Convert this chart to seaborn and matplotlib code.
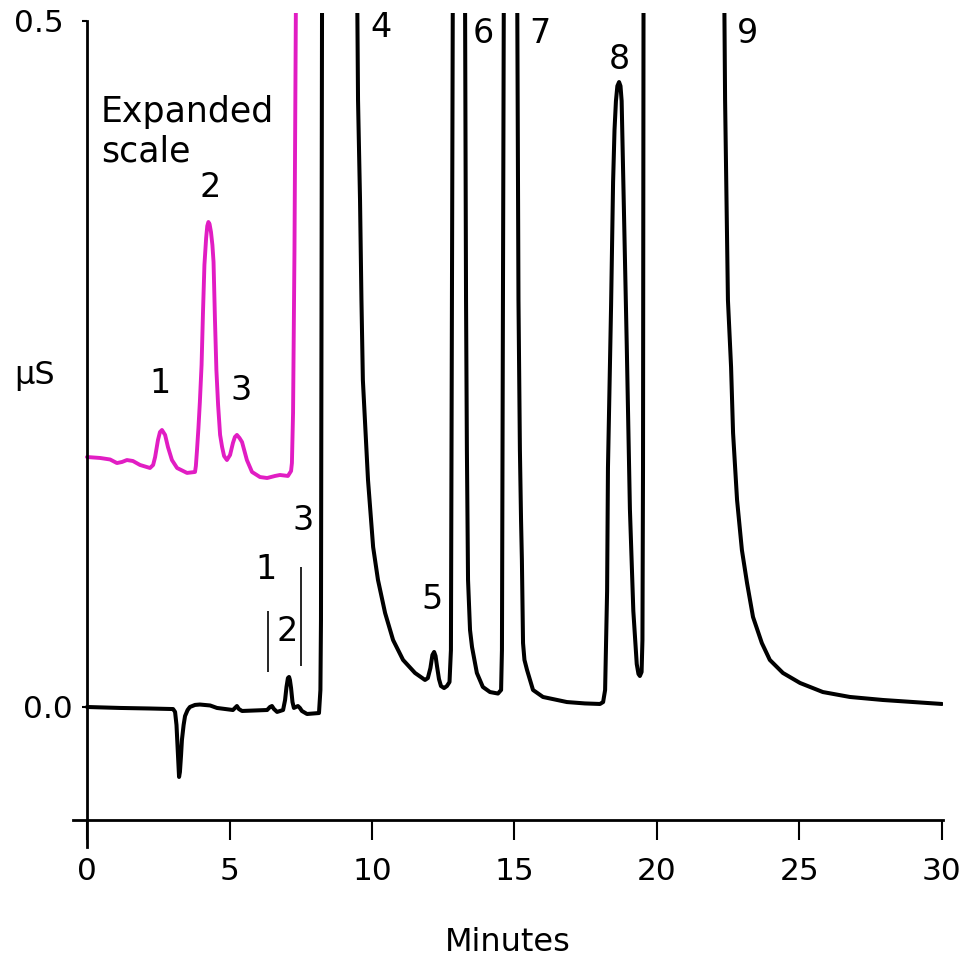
import matplotlib
matplotlib.use("Agg")
import matplotlib.pyplot as plt
import seaborn as sns

# Main conductivity trace: retention time (min) and signal (µS)
time_main = [
    0.00, 1.16, 2.21, 3.02, 3.09, 3.14, 3.19, 3.23, 3.26, 3.30, 3.33, 3.39,
    3.44, 3.53, 3.61, 3.79, 3.96, 4.32, 4.56, 5.12, 5.19, 5.26, 5.33, 5.44,
    6.32, 6.42, 6.49, 6.56, 6.67, 6.88, 6.95, 7.00, 7.05, 7.09, 7.12, 7.16,
    7.21, 7.26, 7.33, 7.40, 7.47, 7.54, 7.72, 8.14, 8.19, 8.21, 8.25, 8.80,
    9.47, 9.51, 9.58, 9.63, 9.68, 9.86, 10.04, 10.21, 10.46, 10.74, 11.09,
    11.51, 11.86, 11.96, 12.05, 12.12, 12.18, 12.23, 12.28, 12.35, 12.42,
    12.53, 12.63, 12.72, 12.77, 12.84, 13.05, 13.26, 13.30, 13.33, 13.37,
    13.44, 13.51, 13.68, 13.89, 14.14, 14.42, 14.53, 14.56, 14.63, 14.86,
    15.09, 15.14, 15.19, 15.23, 15.26, 15.30, 15.35, 15.44, 15.65, 16.00,
    16.84, 17.47, 18.00, 18.11, 18.18, 18.25, 18.28, 18.39, 18.46, 18.51,
    18.56, 18.61, 18.67, 18.72, 18.76, 18.82, 18.88, 18.94, 19.05, 19.17,
    19.29, 19.35, 19.40, 19.46, 19.49, 19.51, 19.53, 21.00, 22.35, 22.39,
    22.44, 22.49, 22.55, 22.60, 22.67, 22.81, 22.98, 23.16, 23.37, 23.68,
    23.96, 24.42, 25.02, 25.82, 26.77, 27.93, 30.00,
]
signal_main = [
    0.0000, -0.0007, -0.0011, -0.0015, -0.0036, -0.0131, -0.0350, -0.0510,
    -0.0474, -0.0350, -0.0241, -0.0131, -0.0066, -0.0022, 0.0000, 0.0015,
    0.0018, 0.0011, -0.0007, -0.0022, -0.0007, 0.0007, -0.0015, -0.0029,
    -0.0022, 0.0000, 0.0007, -0.0015, -0.0036, -0.0022, 0.0051, 0.0146,
    0.0211, 0.0219, 0.0197, 0.0138, 0.0036, -0.0007, 0.0000, 0.0007, -0.0007,
    -0.0029, -0.0051, -0.0044, 0.0124, 0.0634, 0.5500, 1.5000,
    0.5500, 0.4424, 0.3695, 0.2966, 0.2383, 0.1655, 0.1166, 0.0926, 0.0685,
    0.0488, 0.0343, 0.0248, 0.0197, 0.0211, 0.0284, 0.0379, 0.0401, 0.0372,
    0.0299, 0.0204, 0.0153, 0.0138, 0.0153, 0.0182, 0.0415, 0.5500, 1.2000,
    0.5500, 0.2966, 0.1873, 0.0926, 0.0561, 0.0437, 0.0248, 0.0146, 0.0109,
    0.0098, 0.0124, 0.0415, 0.5500, 1.0000, 0.5500, 0.2966, 0.1873, 0.1363,
    0.1071, 0.0466, 0.0343, 0.0270, 0.0124, 0.0073, 0.0036, 0.0026, 0.0022,
    0.0036, 0.0124, 0.0845, 0.1742, 0.2930, 0.3827, 0.4206, 0.4417, 0.4526,
    0.4555, 0.4526, 0.4417, 0.3827, 0.3229, 0.2631, 0.1443, 0.0700, 0.0313,
    0.0241, 0.0226, 0.0255, 0.0488, 0.1742, 0.5500, 3.0000, 0.5500, 0.4424,
    0.3695, 0.2966, 0.2700, 0.2478, 0.1997, 0.1509, 0.1144, 0.0904, 0.0656,
    0.0466, 0.0343, 0.0248, 0.0175, 0.0109, 0.0073, 0.0051, 0.0022,
]

# Early-eluting region replotted on an expanded (offset) scale
time_expanded = [
    0.00, 0.46, 0.81, 1.05, 1.23, 1.40, 1.61, 1.86, 2.21, 2.32, 2.39, 2.49,
    2.56, 2.63, 2.74, 2.84, 2.98, 3.16, 3.51, 3.79, 3.82, 3.86, 3.91, 3.96,
    4.02, 4.07, 4.12, 4.18, 4.22, 4.26, 4.30, 4.35, 4.40, 4.44, 4.49, 4.54,
    4.60, 4.67, 4.74, 4.81, 4.91, 5.02, 5.12, 5.19, 5.26, 5.35, 5.44, 5.61,
    5.79, 6.07, 6.32, 6.60, 6.77, 7.05, 7.16, 7.19, 7.23, 7.28, 7.34,
]
signal_expanded = [
    0.1822, 0.1815, 0.1804, 0.1778, 0.1786, 0.1800, 0.1793, 0.1764, 0.1742,
    0.1764, 0.1822, 0.1946, 0.2004, 0.2019, 0.1983, 0.1895, 0.1800, 0.1742,
    0.1706, 0.1713, 0.1757, 0.1873, 0.2034, 0.2223, 0.2493, 0.2879, 0.3222,
    0.3418, 0.3506, 0.3535, 0.3520, 0.3462, 0.3367, 0.3243, 0.2821, 0.2456,
    0.2201, 0.1983, 0.1895, 0.1829, 0.1800, 0.1837, 0.1924, 0.1968, 0.1983,
    0.1961, 0.1931, 0.1800, 0.1713, 0.1676, 0.1669, 0.1684, 0.1691, 0.1684,
    0.1720, 0.1778, 0.2143, 0.3331, 0.5500,
]

# Peak numbers on the main trace and on the expanded trace
main_peak_names = ["1", "2", "3", "4", "5", "6", "7", "8", "9"]
expanded_peak_names = ["1", "2", "3"]

# Label placement (data coordinates)
main_label_xy = [(6.28, 0.100), (7.02, 0.0547), (7.58, 0.136), (10.32, 0.495),
                 (12.10, 0.078), (13.90, 0.491), (15.90, 0.491), (18.67, 0.4716),
                 (23.19, 0.491)]
expanded_label_xy = [(2.56, 0.236), (4.32, 0.379), (5.40, 0.231)]
marker_lines = [(6.35, 0.0255, 0.070), (7.51, 0.030, 0.102)]

sns.set_theme(style="white")
plt.rcParams["font.family"] = ["DejaVu Sans"]
plt.rcParams["text.color"] = "black"

fig = plt.figure(figsize=(9.65, 9.59), dpi=100)
ax = fig.add_axes([0.0754, 0.1449, 0.9022, 0.8415])

sns.lineplot(x=time_main, y=signal_main, ax=ax, color="black", linewidth=2.9,
             sort=False, estimator=None)
sns.lineplot(x=time_expanded, y=signal_expanded, ax=ax, color="#E11DC3",
             linewidth=2.8, sort=False, estimator=None)

ax.set_xlim(-0.5, 30.05)
ax.set_ylim(-0.0824, 0.5058)

# Axis frame: only left and bottom, left spine sits at t = 0
for side in ("top", "right"):
    ax.spines[side].set_visible(False)
for side in ("left", "bottom"):
    ax.spines[side].set_color("black")
    ax.spines[side].set_linewidth(2.0)
ax.spines["left"].set_position(("data", 0))
ax.spines["left"].set_bounds(-0.102, 0.5)

ax.set_xticks([0, 5, 10, 15, 20, 25, 30])
ax.set_xticklabels(["0", "5", "10", "15", "20", "25", "30"])
ax.set_yticks([0.0, 0.5])
ax.set_yticklabels(["0.0", "0.5"])
ax.tick_params(axis="x", direction="out", length=14.4, width=1.5, pad=12,
               labelsize=22.5, colors="black", bottom=True)
ax.tick_params(axis="y", direction="out", length=3.6, width=1.5, pad=7,
               labelsize=22.5, colors="black", left=True)
top_tick = ax.yaxis.get_major_ticks()[1]
top_tick.tick1line.set_markersize(9.4)
top_tick.set_pad(12.8)

ax.set_xlabel("Minutes", fontsize=23, labelpad=30, color="black")
ax.set_ylabel("")
fig.text(35 / 965, 1 - 375 / 959, "µS", fontsize=23, ha="center", va="center",
         color="black")

for name, (x, y) in zip(main_peak_names, main_label_xy):
    ax.text(x, y, name, fontsize=24, ha="center", va="center", color="black")
for name, (x, y) in zip(expanded_peak_names, expanded_label_xy):
    ax.text(x, y, name, fontsize=24, ha="center", va="center", color="black")
for x, y0, y1 in marker_lines:
    ax.vlines(x, y0, y1, color="black", linewidth=1.2)

ax.text(0.49, 0.419, "Expanded\nscale", fontsize=25, ha="left", va="center",
        linespacing=1.2, color="black")

fig.savefig("out.png", dpi=100, facecolor="white")
